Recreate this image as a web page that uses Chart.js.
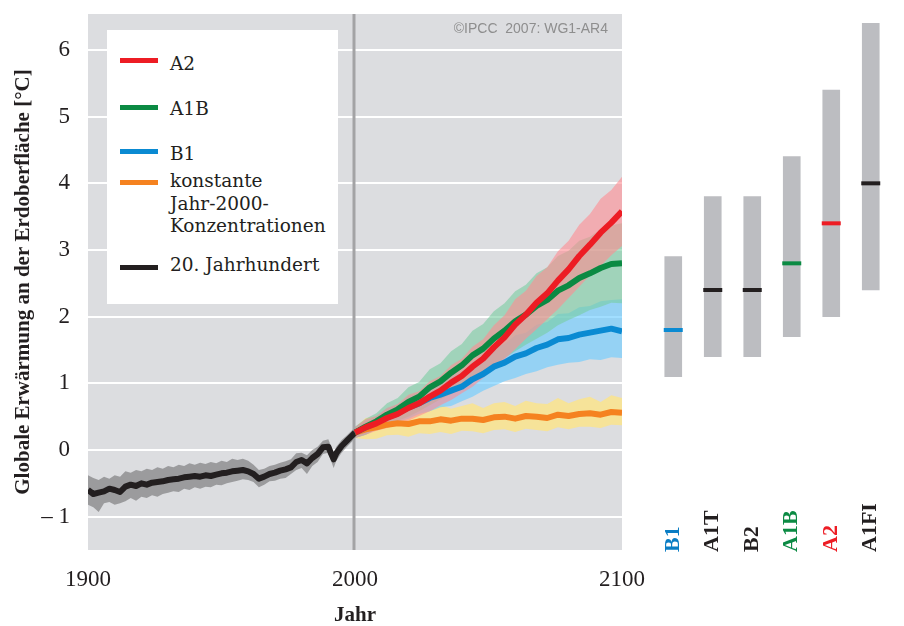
<!DOCTYPE html>
<html>
<head>
<meta charset="utf-8">
<script src="https://cdn.jsdelivr.net/npm/chart.js@4"></script>
<style>
  body { margin: 0; background: #fff; width: 904px; height: 626px; overflow: hidden; position: relative; }
  #left { position: absolute; left: 0; top: 0; }
  #right { position: absolute; left: 640px; top: 0; }
  .legend { position: absolute; left: 107px; top: 30px; width: 231px; height: 274px; background: #fff; }
  .sw { position: absolute; left: 120px; width: 38px; height: 5px; }
  .lt { position: absolute; left: 170px; font-family: "DejaVu Serif", serif; font-size: 18.5px; line-height: 22.5px; color: #231f20; white-space: nowrap; }
  .copy { position: absolute; right: 296px; top: 20px; font-family: "Liberation Sans", Arial, sans-serif; font-size: 14px; line-height: 16px; color: #8e8e8e; white-space: pre; }
</style>
</head>
<body>
<canvas id="left" width="904" height="626"></canvas>
<canvas id="right" width="264" height="626"></canvas>

<div class="legend"></div>
<div class="sw" style="top:58px;background:#ed1c24"></div>
<div class="lt" style="top:53px">A2</div>
<div class="sw" style="top:105px;background:#0b8a43"></div>
<div class="lt" style="top:98px">A1B</div>
<div class="sw" style="top:149px;background:#0a8ad2"></div>
<div class="lt" style="top:143px">B1</div>
<div class="sw" style="top:180px;background:#f58220"></div>
<div class="lt" style="top:170px">konstante<br>Jahr-2000-<br>Konzentrationen</div>
<div class="sw" style="top:265px;background:#231f20"></div>
<div class="lt" style="top:254px">20. Jahrhundert</div>
<div class="copy">©IPCC  2007: WG1-AR4</div>

<script>
// 20th century (observed/simulated) mean and spread
const histYears = [1900,1902,1904,1906,1908,1910,1912,1914,1916,1918,1920,1922,1924,1926,1928,1930,1932,1934,1936,1938,1940,1942,1944,1946,1948,1950,1952,1954,1956,1958,1960,1962,1964,1966,1968,1970,1972,1974,1976,1978,1980,1982,1984,1986,1988,1990,1991,1992,1993,1995,1997,1999,2000];
const histMean = [-0.60,-0.66,-0.64,-0.62,-0.58,-0.60,-0.63,-0.55,-0.52,-0.54,-0.50,-0.52,-0.49,-0.48,-0.47,-0.45,-0.44,-0.43,-0.41,-0.40,-0.39,-0.40,-0.38,-0.39,-0.37,-0.35,-0.34,-0.32,-0.31,-0.30,-0.32,-0.36,-0.43,-0.40,-0.36,-0.34,-0.31,-0.29,-0.26,-0.18,-0.15,-0.20,-0.12,-0.06,0.04,0.05,-0.05,-0.14,-0.05,0.06,0.14,0.22,0.26];
const histUpper = [-0.38,-0.42,-0.45,-0.40,-0.43,-0.38,-0.40,-0.32,-0.34,-0.30,-0.32,-0.28,-0.30,-0.26,-0.28,-0.24,-0.26,-0.22,-0.24,-0.20,-0.22,-0.19,-0.21,-0.18,-0.20,-0.16,-0.18,-0.13,-0.15,-0.13,-0.16,-0.22,-0.30,-0.28,-0.24,-0.22,-0.19,-0.17,-0.14,-0.05,-0.04,-0.08,0.00,0.05,0.14,0.16,0.06,-0.04,0.05,0.15,0.22,0.30,0.33];
const histLower = [-0.82,-0.86,-0.93,-0.80,-0.78,-0.82,-0.80,-0.77,-0.72,-0.76,-0.70,-0.72,-0.68,-0.70,-0.66,-0.64,-0.62,-0.63,-0.58,-0.60,-0.56,-0.58,-0.55,-0.56,-0.52,-0.53,-0.50,-0.48,-0.46,-0.44,-0.45,-0.48,-0.56,-0.52,-0.47,-0.46,-0.43,-0.42,-0.36,-0.30,-0.27,-0.36,-0.24,-0.18,-0.06,-0.04,-0.16,-0.27,-0.16,-0.04,0.05,0.13,0.18];

// 21st century projections
const projYears = [2000,2004,2008,2012,2016,2020,2024,2028,2032,2036,2040,2044,2048,2052,2056,2060,2064,2068,2072,2076,2080,2084,2088,2092,2096,2100];
const a2Mean  = [0.26,0.34,0.40,0.48,0.54,0.63,0.70,0.80,0.89,1.01,1.11,1.25,1.37,1.54,1.69,1.88,2.03,2.21,2.35,2.54,2.71,2.91,3.08,3.26,3.41,3.58];
const a2Upper = [0.34,0.46,0.51,0.63,0.69,0.83,0.88,1.03,1.11,1.27,1.37,1.55,1.66,1.87,2.02,2.26,2.39,2.61,2.74,2.98,3.14,3.38,3.54,3.77,3.90,4.10];
const a2Lower = [0.18,0.23,0.29,0.33,0.39,0.44,0.51,0.58,0.67,0.75,0.85,0.95,1.08,1.21,1.36,1.51,1.67,1.81,1.96,2.11,2.28,2.45,2.62,2.76,2.92,3.06];
const a1bMean  = [0.26,0.35,0.43,0.53,0.61,0.72,0.80,0.94,1.03,1.16,1.27,1.42,1.52,1.67,1.79,1.93,2.03,2.16,2.25,2.39,2.47,2.58,2.65,2.73,2.79,2.80];
const a1bUpper = [0.35,0.47,0.55,0.70,0.78,0.94,1.02,1.21,1.30,1.48,1.59,1.79,1.89,2.08,2.20,2.38,2.48,2.65,2.74,2.91,2.99,3.14,3.20,3.31,3.37,3.40];
const a1bLower = [0.18,0.23,0.31,0.36,0.44,0.50,0.58,0.67,0.76,0.84,0.95,1.05,1.15,1.26,1.38,1.48,1.58,1.67,1.76,1.87,1.95,2.02,2.10,2.15,2.21,2.20];
const b1Mean  = [0.26,0.34,0.41,0.49,0.55,0.64,0.70,0.78,0.83,0.89,0.95,1.06,1.14,1.25,1.31,1.40,1.45,1.53,1.58,1.66,1.68,1.73,1.76,1.79,1.82,1.78];
const b1Upper = [0.35,0.45,0.51,0.63,0.68,0.81,0.86,0.98,1.02,1.12,1.17,1.32,1.39,1.54,1.59,1.72,1.76,1.88,1.92,2.04,2.05,2.14,2.16,2.23,2.25,2.26];
const b1Lower = [0.18,0.23,0.31,0.35,0.42,0.47,0.54,0.58,0.64,0.66,0.73,0.80,0.89,0.96,1.03,1.08,1.14,1.18,1.24,1.28,1.31,1.32,1.36,1.35,1.39,1.38];
const constMean  = [0.26,0.31,0.34,0.38,0.40,0.39,0.43,0.43,0.46,0.44,0.47,0.47,0.45,0.49,0.50,0.47,0.51,0.50,0.48,0.53,0.51,0.54,0.55,0.53,0.57,0.56];
const constUpper = [0.34,0.48,0.50,0.55,0.60,0.57,0.63,0.60,0.68,0.62,0.66,0.70,0.63,0.70,0.72,0.66,0.74,0.70,0.69,0.78,0.70,0.76,0.80,0.72,0.82,0.78];
const constLower = [0.18,0.16,0.17,0.22,0.23,0.20,0.25,0.24,0.27,0.24,0.29,0.28,0.25,0.30,0.31,0.27,0.32,0.30,0.28,0.34,0.31,0.35,0.35,0.33,0.38,0.37];

// likely ranges for 2090-2099 (right panel)
const scenarios = ['B1', 'A1T', 'B2', 'A1B', 'A2', 'A1FI'];
const rangeLow  = [1.1, 1.4, 1.4, 1.7, 2.0, 2.4];
const rangeHigh = [2.9, 3.8, 3.8, 4.4, 5.4, 6.4];
const bestEst   = [1.8, 2.4, 2.4, 2.8, 3.4, 4.0];
const scenColors = ['#0a7dc4', '#231f20', '#231f20', '#0b8a43', '#ed1c24', '#231f20'];
const markColors = ['#0a8ad2', '#231f20', '#231f20', '#0b8a43', '#ed1c24', '#231f20'];

const xTicks = [1900, 2000, 2100];
const yTicks = [-1, 0, 1, 2, 3, 4, 5, 6];
const yMin = -1.5, yMax = 6.54;

const serif = 'Liberation Serif';
const ink = '#231f20';

function pts(xs, ys) {
  return xs.map((x, i) => ({ x: x, y: ys[i] }));
}

function band(xs, upper, lower, color, order) {
  return [
    { data: pts(xs, upper), fill: '+1', backgroundColor: color, borderColor: 'rgba(0,0,0,0)', borderWidth: 0, pointRadius: 0, order: order },
    { data: pts(xs, lower), fill: false, borderColor: 'rgba(0,0,0,0)', borderWidth: 0, pointRadius: 0, order: order + 1 }
  ];
}

function line(xs, ys, color, order) {
  return { data: pts(xs, ys), borderColor: color, borderWidth: 6, pointRadius: 0, fill: false, tension: 0, borderJoinStyle: 'round', order: order };
}

const datasets = [].concat(
  band(projYears, a2Upper, a2Lower, 'rgba(255,140,145,0.6)', 10),
  band(projYears, a1bUpper, a1bLower, 'rgba(120,205,160,0.6)', 12),
  band(projYears, b1Upper, b1Lower, 'rgba(110,205,255,0.65)', 14),
  band(projYears, constUpper, constLower, 'rgba(255,228,130,0.75)', 16),
  band(histYears, histUpper, histLower, 'rgba(115,115,117,0.62)', 18),
  [
    line(projYears, a2Mean, '#ed1c24', 0),
    line(projYears, a1bMean, '#0b8a43', 1),
    line(projYears, b1Mean, '#0a8ad2', 2),
    line(projYears, constMean, '#f58220', 3),
    line(histYears, histMean, ink, 4)
  ]
);

const panelDecor = {
  id: 'panelDecor',
  beforeDraw(chart) {
    const a = chart.chartArea, ctx = chart.ctx;
    ctx.save();
    ctx.fillStyle = '#dcdde0';
    ctx.fillRect(a.left, a.top, a.right - a.left, a.bottom - a.top);
    ctx.restore();
  },
  beforeDatasetsDraw(chart) {
    const a = chart.chartArea, ctx = chart.ctx;
    const x = chart.scales.x.getPixelForValue(2000) - 1;
    ctx.save();
    ctx.strokeStyle = '#a3a3a5';
    ctx.lineWidth = 3;
    ctx.beginPath();
    ctx.moveTo(x, a.top);
    ctx.lineTo(x, a.bottom);
    ctx.stroke();
    ctx.restore();
  }
};

new Chart(document.getElementById('left'), {
  type: 'line',
  data: { datasets: datasets },
  plugins: [panelDecor],
  options: {
    responsive: false,
    animation: false,
    events: [],
    layout: { padding: { left: 0, top: 14, right: 282, bottom: 0 } },
    plugins: {
      legend: { display: false },
      tooltip: { enabled: false },
      filler: { drawTime: 'beforeDatasetsDraw' }
    },
    scales: {
      x: {
        type: 'linear',
        min: 1900,
        max: 2100,
        afterBuildTicks: (s) => { s.ticks = xTicks.map(v => ({ value: v })); },
        afterFit: (s) => { s.height = 76; s.paddingLeft = 0; s.paddingRight = 0; },
        grid: { display: false, drawTicks: false },
        border: { display: false },
        ticks: { padding: 16, color: ink, font: { family: serif, size: 23 }, callback: (v) => String(v) },
        title: { display: true, text: 'Jahr', color: ink, padding: { top: 0, bottom: 0 }, font: { family: serif, size: 21, weight: 'bold', lineHeight: 1 } }
      },
      y: {
        min: yMin,
        max: yMax,
        afterBuildTicks: (s) => { s.ticks = yTicks.map(v => ({ value: v })); },
        afterFit: (s) => { s.width = 88; s.paddingTop = 0; s.paddingBottom = 0; },
        grid: { color: '#ffffff', lineWidth: 2, drawTicks: false },
        border: { display: false },
        ticks: {
          padding: 18,
          color: ink,
          font: { family: serif, size: 23 },
          callback: (v) => v < 0 ? '\u2013 ' + Math.abs(v) : String(v)
        },
        title: { display: true, text: 'Globale Erwärmung an der Erdoberfläche [°C]', color: ink, padding: { top: 13, bottom: 0 }, font: { family: serif, size: 21, weight: 'bold', lineHeight: 1 } }
      }
    }
  }
});

const scenarioLabels = {
  id: 'scenarioLabels',
  afterDraw(chart) {
    const ctx = chart.ctx, xs = chart.scales.x, bottom = chart.chartArea.bottom + 2;
    ctx.save();
    ctx.font = 'bold 22px "' + serif + '"';
    ctx.textAlign = 'left';
    ctx.textBaseline = 'middle';
    scenarios.forEach((s, i) => {
      ctx.save();
      ctx.translate(xs.getPixelForValue(i), bottom);
      ctx.rotate(-Math.PI / 2);
      ctx.fillStyle = scenColors[i];
      ctx.fillText(s, 0, 0);
      ctx.restore();
    });
    ctx.restore();
  }
};

new Chart(document.getElementById('right'), {
  type: 'bar',
  data: {
    labels: scenarios,
    datasets: [
      {
        type: 'line',
        data: bestEst,
        showLine: false,
        pointStyle: 'line',
        pointRadius: 9.5,
        pointBorderWidth: 4,
        pointBorderColor: markColors,
        order: 0
      },
      {
        data: scenarios.map((s, i) => [rangeLow[i], rangeHigh[i]]),
        backgroundColor: '#bcbdc1',
        barThickness: 17,
        grouped: false,
        order: 1
      }
    ]
  },
  plugins: [scenarioLabels],
  options: {
    responsive: false,
    animation: false,
    events: [],
    layout: { padding: { left: 7, top: 14, right: 0, bottom: 76 } },
    plugins: { legend: { display: false }, tooltip: { enabled: false } },
    scales: {
      x: { display: false },
      y: { display: false, min: yMin, max: yMax }
    }
  }
});
</script>
</body>
</html>
